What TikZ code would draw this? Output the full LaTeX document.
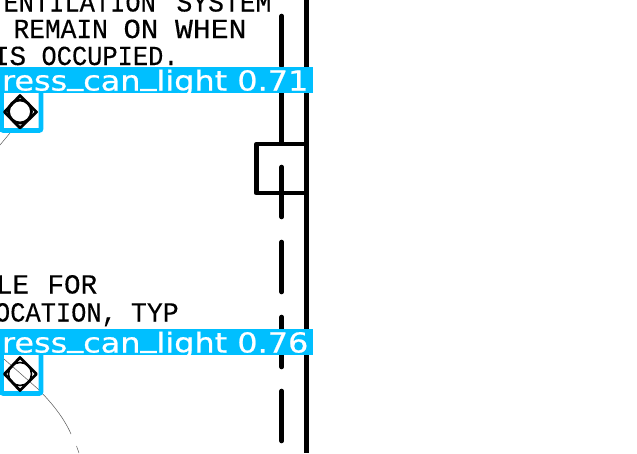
\documentclass[tikz,border=0pt]{standalone}
\usepackage{fontspec}
\newfontfamily\cadfont[FakeBold=0.25]{Liberation Mono}
\newfontfamily\labfont[FakeBold=0.7]{DejaVu Sans}
\newcommand{\uscore}{\raisebox{6pt}{\_}}
\tikzset{
  cad/.style={anchor=base west,inner sep=0pt,outer sep=0pt,font=\cadfont\fontsize{27.6}{30}\selectfont,text=black},
  wall/.style={line width=5pt,black},
  dashseg/.style={line width=4.6pt,black,line cap=round},
  frame/.style={line width=4.3pt,black,line join=round},
  thin/.style={line width=0.5pt,black!65},
  fixture/.style={line width=2.8pt,black,line join=round},
  bluebox/.style={line width=4.8pt,draw=capblue,rounded corners=2pt},
  bluefill/.style={fill=capblue,draw=none},
  lab/.style={anchor=base west,inner sep=0pt,outer sep=0pt,text=white,font=\labfont\fontsize{27.5}{30}\selectfont}
}
\definecolor{capblue}{HTML}{00BFFF}
\begin{document}
\begin{tikzpicture}[x=1pt,y=-1pt]
\useasboundingbox (0,0) rectangle (637,453);
\fill[white] (0,0) rectangle (637,453);
% CAD text
\node[cad] (t1a) at (3.5,11.5) {\scalebox{.92}[1]{ENTILATION}};
\node[cad] (t1b) at (176.5,11.5) {\scalebox{.955}[1]{SYSTEM}};
\node[cad] (t2a) at (13.5,38) {\scalebox{.95}[1]{REMAIN}};
\node[cad] (t2b) at (123.5,38) {\scalebox{1.05}[1]{ON}};
\node[cad] (t2c) at (175,38) {\scalebox{1.08}[1]{WHEN}};
\node[cad] (t3a) at (-7,65) {IS};
\node[cad] (t3b) at (41.5,65) {\scalebox{.92}[1]{OCCUPIED.}};
\node[cad] (t4a) at (-4,293.5) {LE};
\node[cad] (t4b) at (47.5,293.5) {FOR};
\node[cad] (t5a) at (-5,321.5) {\scalebox{.92}[1]{OCATION,}};
\node[cad] (t5b) at (131,321.5) {\scalebox{.96}[1]{TYP}};
% dashed line
\foreach \a/\b in {16/66,92/143,167/217,242/292,317/367,391/441}
  \draw[dashseg] (281.7,\a) -- (281.7,\b);
% wall and box
\coordinate (wt) at (306.6,0);
\coordinate (wb) at (306.6,453);
\draw[wall] (wt) -- (wb);
\draw[frame] (306,143.8) -- (256.4,143.8) -- (256.4,193.3) -- (306,193.3);
% thin lines
\draw[thin] (0,145) -- (10,133);
\draw[thin] (4,359) -- (38,389) .. controls (52,403) and (64,418) .. (71,434);
\draw[thin] (76.5,446) -- (79,453);
% detection boxes
\draw[bluebox] (1.5,90) -- (1.5,130.5) -- (41,130.5) -- (41,90);
\draw[bluebox] (1.5,352) -- (1.5,393.5) -- (41,393.5) -- (41,352);
% fixtures
\draw[fixture] (20,95.5) -- (36.5,112) -- (20,128) -- (4.5,112) -- cycle;
\draw[fixture] (20,111.5) circle (11.5);
\draw[fixture] (20,357.5) -- (36.5,374) -- (20,390.5) -- (4.5,374) -- cycle;
\draw[line width=1.6pt,black] (20,374) circle (11.5);
% labels
\fill[bluefill] (0,67) rectangle (313,93);
\fill[bluefill] (0,329) rectangle (313,355);
\node[lab] (l1) at (2,90.5) {\scalebox{1.16}[1]{ress\uscore can\uscore light 0.71}};
\node[lab] (l2) at (2,352.5) {\scalebox{1.16}[1]{ress\uscore can\uscore light 0.76}};
\end{tikzpicture}
\end{document}
